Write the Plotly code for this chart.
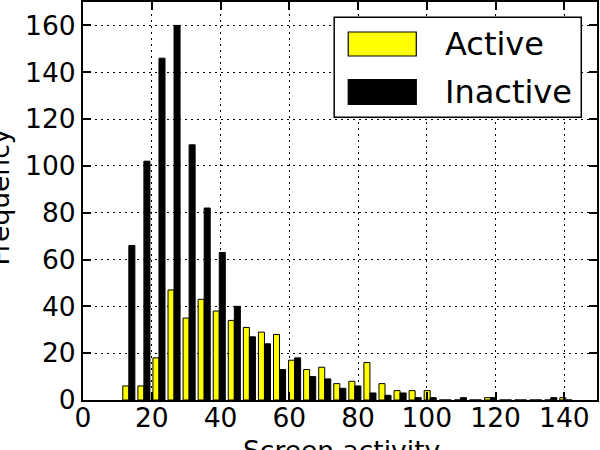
import plotly.graph_objects as go

# Histogram data (30 equal-width bins)
bin_left = 11.14
bin_width = 4.383
active = [6, 6, 18, 47, 35, 43, 38, 34, 31, 29, 28, 17, 13, 14, 7, 8, 16, 7, 4, 4,
          4, 0, 0, 0, 1, 0, 0, 0, 0, 1]
inactive = [66, 102, 146, 160, 109, 82, 63, 40, 27, 24, 13, 18, 10, 9, 5, 6, 3, 2, 3, 1,
            1, 0, 1, 0, 1, 0, 0, 0, 1, 0]
series_names = ["Active", "Inactive"]
x_title = "Screen activity"
y_title = "Frequency"
x_ticks = [0, 20, 40, 60, 80, 100, 120, 140]
y_ticks = [0, 20, 40, 60, 80, 100, 120, 140, 160]

centers = [bin_left + (i + 0.5) * bin_width for i in range(len(active))]

FONT = "DejaVu Sans"

fig = go.Figure()
fig.add_trace(go.Bar(x=centers, y=active, name=series_names[0],
                     marker=dict(color="#ffff00", line=dict(color="black", width=1))))
fig.add_trace(go.Bar(x=centers, y=inactive, name=series_names[1],
                     marker=dict(color="#000000", line=dict(color="black", width=1))))

axis_common = dict(
    showline=True, linecolor="black", linewidth=2, mirror="allticks",
    ticks="inside", ticklen=8, tickwidth=1.5, tickcolor="black",
    showgrid=True, gridcolor="black", gridwidth=1.2, griddash="2px,4px",
    zeroline=False, layer="above traces",
    tickfont=dict(family=FONT, size=26.5, color="black"),
)

fig.update_xaxes(range=[0, 149.5], tickvals=x_ticks, ticklabelstandoff=-7, **axis_common)
fig.update_yaxes(range=[0, 170], tickvals=y_ticks, **axis_common)

# Matplotlib-style legend drawn in paper coordinates
shapes = [
    dict(type="rect", xref="paper", yref="paper", x0=0.4887, x1=0.9694, y0=0.7102, y1=0.9615,
         fillcolor="white", line=dict(color="black", width=1.5), layer="above"),
    dict(type="rect", xref="paper", yref="paper", x0=0.5160, x1=0.6484, y0=0.8643, y1=0.9246,
         fillcolor="#ffff00", line=dict(color="black", width=1.2), layer="above"),
    dict(type="rect", xref="paper", yref="paper", x0=0.5160, x1=0.6484, y0=0.7428, y1=0.8049,
         fillcolor="#000000", line=dict(color="black", width=1.2), layer="above"),
]
annotations = [
    dict(text=series_names[0], xref="paper", yref="paper", x=0.7009, y=0.8945,
         xanchor="left", yanchor="middle", showarrow=False,
         font=dict(family=FONT, size=32, color="black")),
    dict(text=series_names[1], xref="paper", yref="paper", x=0.7009, y=0.7739,
         xanchor="left", yanchor="middle", showarrow=False,
         font=dict(family=FONT, size=32, color="black")),
    # axis titles (partly outside the figure, as in the reference)
    dict(text=x_title, xref="paper", yref="paper", x=0.503, y=-0.0829,
         xanchor="center", yanchor="top", showarrow=False,
         font=dict(family=FONT, size=26.5, color="black")),
    dict(text=y_title, xref="paper", yref="paper", x=-0.1634, y=0.5088, textangle=-90,
         xanchor="center", yanchor="middle", showarrow=False,
         font=dict(family=FONT, size=26.5, color="black")),
]

fig.update_layout(
    width=600, height=450,
    margin=dict(l=83, r=3, t=2, b=50, autoexpand=False),
    barmode="group", bargap=0.2, bargroupgap=0,
    plot_bgcolor="white", paper_bgcolor="white",
    showlegend=False,
    shapes=shapes, annotations=annotations,
    font=dict(family=FONT, color="black"),
)

fig.write_html("out.html", config={"displayModeBar": False},
               post_script="document.body.style.margin='0';document.body.style.overflow='hidden';")
